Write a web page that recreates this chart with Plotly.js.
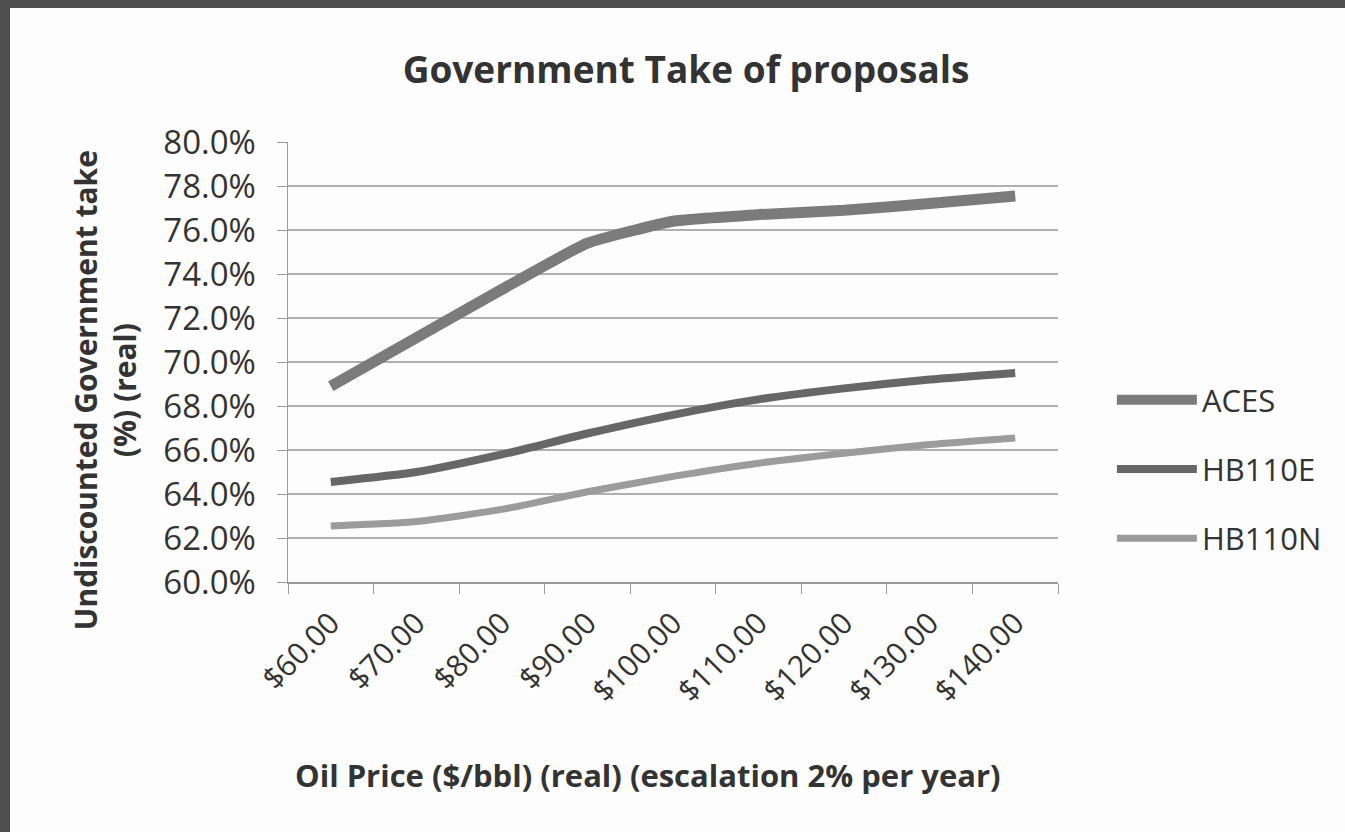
<!DOCTYPE html>
<html>
<head>
<meta charset="utf-8">
<script src="https://cdn.plot.ly/plotly-3.0.1.min.js"></script>
<style>
  html, body { margin: 0; padding: 0; background: #ffffff; }
  #wrap { position: absolute; left: 0; top: 0; width: 1345px; height: 832px; background: #4e4e4e; }
  #chart { position: absolute; left: 10px; top: 8px; width: 1335px; height: 824px; background: #fdfdfd; }
</style>
</head>
<body>
<div id="wrap"><div id="chart"></div></div>
<script>
const categories = ["$60.00", "$70.00", "$80.00", "$90.00", "$100.00", "$110.00", "$120.00", "$130.00", "$140.00"];
const aces   = [0.689, 0.711, 0.733, 0.754, 0.764, 0.767, 0.769, 0.772, 0.7755];
const hb110e = [0.6455, 0.650, 0.658, 0.6675, 0.676, 0.683, 0.688, 0.692, 0.695];
const hb110n = [0.6255, 0.6275, 0.633, 0.641, 0.648, 0.654, 0.6585, 0.6625, 0.6655];
const yTicks = [0.60, 0.62, 0.64, 0.66, 0.68, 0.70, 0.72, 0.74, 0.76, 0.78, 0.80];

const chartTitle = "Government Take of proposals";
const xTitle = "Oil Price ($/bbl) (real) (escalation 2% per year)";
const yTitle = "Undiscounted Government take<br>(%) (real)";

const font = "Open Sans, Noto Sans, sans-serif";

const traces = [
  { x: categories, y: aces, name: "ACES", type: "scatter", mode: "lines",
    legendgroup: "a", line: { color: "#7b7b7b", width: 11, shape: "spline", smoothing: 0.4 } },
  { x: categories, y: hb110e, name: "HB110E", type: "scatter", mode: "lines",
    legendgroup: "b", line: { color: "#676767", width: 8, shape: "spline", smoothing: 0.6 } },
  { x: categories, y: hb110n, name: "HB110N", type: "scatter", mode: "lines",
    legendgroup: "c", line: { color: "#9c9c9c", width: 7, shape: "spline", smoothing: 0.6 } }
];

const layout = {
  width: 1335, height: 824,
  paper_bgcolor: "#fdfdfd", plot_bgcolor: "#fdfdfd",
  margin: { l: 278, r: 287, t: 134, b: 250 },
  font: { family: font, color: "#333333" },
  title: { text: "<b>" + chartTitle + "</b>", font: { size: 37, family: font, color: "#333333" },
           x: 0.5064, xref: "container", xanchor: "center", y: 0.925, yref: "container", yanchor: "middle" },
  xaxis: {
    type: "category", tickangle: -45, tickson: "boundaries", ticks: "outside", ticklen: 10,
    tickcolor: "#999999", showline: true, linecolor: "#999999", linewidth: 1.5,
    showgrid: false, zeroline: false, tickfont: { size: 30, color: "#333333" },
    ticklabelstandoff: 10,
    range: [-0.5, 8.5]
  },
  yaxis: {
    range: [0.6, 0.8], tickvals: yTicks, tickformat: ".1%", ticks: "outside", ticklen: 10,
    tickcolor: "#999999", showline: true, linecolor: "#999999", linewidth: 1.5,
    showgrid: true, gridcolor: "#b0b0b0", gridwidth: 1.5, zeroline: false,
    tickfont: { size: 33, color: "#333333" }, ticklabelstandoff: 14
  },
  annotations: [
    { text: "<b>" + xTitle + "</b>", xref: "paper", yref: "paper", x: 0.4675, y: -0.4386,
      xanchor: "center", yanchor: "middle", showarrow: false, font: { size: 31, color: "#333333" } },
    { text: "<b>" + yTitle + "</b>", xref: "paper", yref: "paper", x: -0.2377, y: 0.436,
      xanchor: "center", yanchor: "middle", textangle: -90, showarrow: false,
      font: { size: 30, color: "#333333" } }
  ],
  showlegend: true,
  legend: { x: 1.07, y: 0.475, xanchor: "left", yanchor: "top", font: { size: 31, color: "#333333" },
            tracegroupgap: 26, bgcolor: "rgba(0,0,0,0)", itemwidth: 80 }
};

Plotly.newPlot("chart", traces, layout, { displayModeBar: false, staticPlot: true });
</script>
</body>
</html>
